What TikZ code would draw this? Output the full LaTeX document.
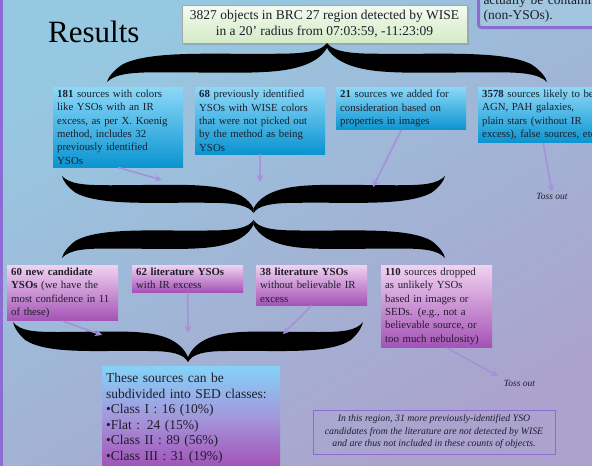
\documentclass[tikz,border=0pt]{standalone}
\usepackage{fontspec}
\setmainfont{Liberation Serif}
\usetikzlibrary{arrows.meta,shadows}
\definecolor{bgA}{HTML}{96C9E1}
\definecolor{bgB}{HTML}{ABA2CD}
\definecolor{txt}{HTML}{1E1E2C}
\definecolor{blueTop}{HTML}{8CD8F8}
\definecolor{blueBot}{HTML}{0A94D0}
\definecolor{pinkTop}{HTML}{F0D2F0}
\definecolor{pinkBot}{HTML}{A452B6}
\definecolor{arrowc}{HTML}{A88FDA}
\definecolor{purpline}{HTML}{8C6CD2}
\definecolor{greenTop}{HTML}{F4FBEF}
\definecolor{greenBot}{HTML}{D4EBC6}
\definecolor{sedTop}{HTML}{84D2F8}
\definecolor{sedMid}{HTML}{A496DA}
\definecolor{sedBot}{HTML}{A24EB6}
\definecolor{trfill}{HTML}{A2C6DE}
\newcommand{\halfbracepath}{(0,0) .. controls (-5,8) and (-18,11) .. (-45,11) .. controls (-100,12) and (-160,7) .. (-186,22) .. controls (-194,28) and (-199,35) .. (-200,40) .. controls (-192,31) and (-176,30) .. (-150,30) .. controls (-105,30) and (-65,32) .. (-40,28) .. controls (-16,24) and (-5,15) .. (0,5) -- cycle}
\newcommand{\bracedraw}[4]{%
  \fill[bracefill, shift={(#1,#2)}, xscale=#3/200, yscale=#4/40] \halfbracepath;
  \fill[bracefill, shift={(#1,#2)}, xscale=-#3/200, yscale=#4/40] \halfbracepath;}
\tikzset{
  bracefill/.style={fill=black},
  rowone/.style={anchor=north west, text width=122pt, inner xsep=4pt, inner ysep=3pt, align=left,
    top color=blueTop, bottom color=blueBot, font=\fontsize{10.8}{13.3}\selectfont, text=txt},
  rowtwo/.style={anchor=north west, text width=103pt, inner xsep=4pt, inner ysep=3pt, align=left,
    top color=pinkTop, bottom color=pinkBot, font=\fontsize{10.8}{13.3}\selectfont, text=txt},
  flow/.style={draw=arrowc, line width=1.6pt, -{Stealth[length=7pt,width=7pt]}},
  tossout/.style={font=\fontsize{9.5}{11}\selectfont\itshape, text=txt, inner sep=1pt},
}
\begin{document}
\begin{tikzpicture}[x=1pt,y=-1pt]
\path[use as bounding box, clip] (0,0) rectangle (592,466);
\shade[top color=bgA, bottom color=bgB, shading angle=30] (0,0) rectangle (592,466);
\fill[purpline] (0,0) rectangle (2.5,466);

% top right (cut) box
\node[anchor=south west, draw=purpline, line width=3pt, rounded corners=3pt, fill=trfill,
  text width=150pt, align=left, inner xsep=5pt, inner ysep=5pt, text=txt,
  font=\fontsize{13.5}{15.5}\selectfont] (tr) at (477,29) {actually be contaminants\\(non-YSOs).};

% title
\node[anchor=base west, inner sep=0pt, text=black, font=\fontsize{31}{36}\selectfont] (title) at (48,42) {Results};

% top box
\node[draw=gray!70, line width=0.6pt, top color=greenTop, bottom color=greenBot,
  drop shadow={shadow xshift=1.5pt, shadow yshift=-1.5pt, opacity=0.35},
  minimum width=285pt, minimum height=38pt, align=center, text=txt, inner sep=2pt,
  font=\fontsize{13.5}{15.7}\selectfont] (top) at (324.5,24)
  {3827 objects in BRC 27 region detected by WISE\\in a 20' radius from 07:03:59, -11:23:09};

% braces
\bracedraw{327}{43}{220}{39}
\bracedraw{253.5}{213}{191.5}{-37}
\bracedraw{253.5}{220}{191.5}{38}
\bracedraw{188}{362}{175}{-40}

% row one
\node[rowone] (b1) at (53,87) {\textbf{181} sources with colors\\like YSOs with an IR\\excess, as per X. Koenig\\method, includes 32\\previously identified\\YSOs};
\node[rowone] (b2) at (195,87) {\textbf{68} previously identified\\YSOs with WISE colors\\that were not picked out\\by the method as being\\YSOs};
\node[rowone] (b3) at (336,87) {\textbf{21} sources we added for\\consideration based on\\properties in images};
\node[rowone] (b4) at (478,87) {\textbf{3578} sources likely to be\\AGN, PAH galaxies,\\plain stars (without IR\\excess), false sources, etc.};

\node[tossout] (t1) at (552,196) {Toss out};

\coordinate (a1) at (162,180);
\coordinate (a2) at (260,182);
\coordinate (a3) at (373,187);
\draw[flow] (b1.south) -- (a1);
\draw[flow] (b2.south) -- (a2);
\draw[flow] (b3.south) -- (a3);
\draw[flow] (b4.south) -- (t1.north);

% row two
\node[rowtwo] (c1) at (7,265) {\textbf{60 new candidate}\\\textbf{YSOs} (we have the\\most confidence in 11\\of these)};
\node[rowtwo] (c2) at (132,265) {\textbf{62 literature YSOs}\\with IR excess};
\node[rowtwo] (c3) at (256,265) {\textbf{38 literature YSOs}\\without believable IR\\excess};
\node[rowtwo] (c4) at (381,265) {\textbf{110} sources dropped\\as unlikely YSOs\\based in images or\\SEDs. (e.g., not a\\believable source, or\\too much nebulosity)};

\node[tossout] (t2) at (519.5,383) {Toss out};

\coordinate (a5) at (102,335);
\coordinate (a6) at (188,333);
\coordinate (a7) at (283,334);
\coordinate (a8) at (498,376);
\draw[flow] (c1.south) -- (a5);
\draw[flow] (c2.south) -- (a6);
\draw[flow] (c3.south) -- (a7);
\draw[flow] ([xshift=10pt]c4.south) -- (a8);

% SED box
\node[anchor=north west, text width=170pt, minimum height=104pt, inner xsep=4pt, inner ysep=2pt,
  align=left, top color=sedTop, bottom color=sedBot, middle color=sedMid, text=txt,
  font=\fontsize{13.5}{15.5}\selectfont] (sed) at (102,366)
  {These sources can be\\subdivided into SED classes:\\•Class I : 16 (10\%)\\•Flat : 24 (15\%)\\•Class II : 89 (56\%)\\•Class III : 31 (19\%)};

% note
\node[draw=purpline, line width=0.8pt, minimum width=242pt, minimum height=44pt, align=center,
  text=txt, inner sep=2pt, font=\fontsize{9.8}{12.5}\selectfont\itshape] (note) at (434,432)
  {In this region, 31 more previously-identified YSO\\candidates from the literature are not detected by WISE\\and are thus not included in these counts of objects.};
\end{tikzpicture}
\end{document}
